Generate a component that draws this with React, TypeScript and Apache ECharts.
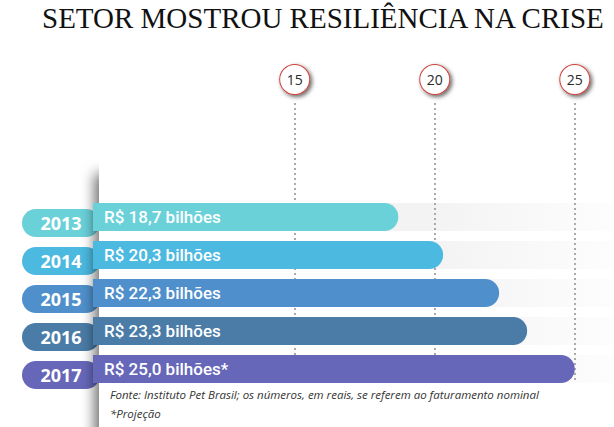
import React, { useEffect, useRef } from 'react';
import * as echarts from 'echarts';

const TITLE = 'SETOR MOSTROU RESILIÊNCIA NA CRISE';
const YEARS = ['2013', '2014', '2015', '2016', '2017'];
const VALUES = [18.7, 20.3, 22.3, 23.3, 25.0];
const PROJECTED = [false, false, false, false, true];
const COLORS = ['#6ad1d9', '#4cb9e0', '#4f90cc', '#4a7ca7', '#6667b9'];
const TICKS = [15, 20, 25];
const AXIS_MIN = 7.8;
const AXIS_MAX = 26.4;
const SOURCE = 'Fonte: Instituto Pet Brasil; os números, em reais, se referem ao faturamento nominal';
const NOTE = '*Projeção';

export default function App() {
  const ref = useRef<HTMLDivElement>(null);
  useEffect(() => {
    const chart = echarts.init(ref.current!, null, { renderer: 'svg' });
    const pillRich: Record<string, any> = {};
    YEARS.forEach((_, i) => {
      pillRich['p' + i] = {
        backgroundColor: COLORS[i],
        width: 78,
        height: 28,
        lineHeight: 28,
        borderRadius: 14,
        align: 'center',
        color: '#fff',
        fontSize: 18,
        fontWeight: 'bold',
        fontFamily: 'Open Sans',
      };
    });
    const option: any = {
      animation: false,
      grid: [
        { left: 93, right: 0, top: 103, bottom: 44 },
        { left: 93, right: 0, top: 198, bottom: 39 },
        { left: 93, right: 0, top: 204, bottom: 33 },
      ],
      xAxis: [
        {
          gridIndex: 0,
          type: 'value',
          position: 'top',
          min: AXIS_MIN,
          max: AXIS_MAX,
          z: 3,
          axisLine: { show: false },
          axisTick: { show: false, customValues: TICKS },
          axisLabel: {
            customValues: TICKS,
            margin: 9,
            formatter: (v: number) => `{c|${v}}`,
            rich: {
              c: {
                width: 29,
                height: 29,
                lineHeight: 29,
                align: 'center',
                backgroundColor: '#fff',
                borderColor: '#d0453e',
                borderWidth: 1,
                borderRadius: 14.5,
                shadowColor: 'rgba(0,0,0,0.6)',
                shadowBlur: 4,
                shadowOffsetX: 2,
                shadowOffsetY: 2,
                color: '#2a2a2a',
                fontSize: 14,
                fontFamily: 'Open Sans',
              },
            },
          },
          splitLine: { show: true, lineStyle: { type: [2, 3], width: 2, color: '#aaaaaa' } },
        },
        { gridIndex: 1, type: 'value', min: AXIS_MIN, max: AXIS_MAX, show: false },
        { gridIndex: 2, type: 'value', min: AXIS_MIN, max: AXIS_MAX, show: false },
      ],
      yAxis: [
        { gridIndex: 0, type: 'value', show: false },
        { gridIndex: 1, type: 'category', data: YEARS, inverse: true, show: false },
        {
          gridIndex: 2,
          type: 'category',
          data: YEARS,
          inverse: true,
          z: 0,
          axisLine: { show: false },
          axisTick: { show: false },
          splitLine: { show: false },
          axisLabel: {
            margin: -7,
            formatter: (v: string, i: number) => `{p${i}|${v}}`,
            rich: pillRich,
          },
        },
      ],
      graphic: [
        {
          type: 'rect',
          z: 1,
          shape: { x: 99, y: 150, width: 530, height: 320 },
          style: {
            fill: '#fff',
            shadowBlur: 14,
            shadowOffsetX: -4,
            shadowOffsetY: 24,
            shadowColor: 'rgba(0,0,0,0.6)',
          },
        },
        {
          type: 'text',
          z: 5,
          left: 42,
          top: 3,
          style: { text: TITLE, fontSize: 29, fontFamily: 'Liberation Serif', fill: '#111' },
        },
        {
          type: 'text',
          z: 5,
          left: 110,
          top: 388,
          style: { text: SOURCE, fontSize: 11.5, fontStyle: 'italic', fontFamily: 'Open Sans', fill: '#333' },
        },
        {
          type: 'text',
          z: 5,
          left: 110,
          top: 407,
          style: { text: NOTE, fontSize: 11.5, fontStyle: 'italic', fontFamily: 'Open Sans', fill: '#333' },
        },
      ],
      series: [
        {
          type: 'bar',
          xAxisIndex: 1,
          yAxisIndex: 1,
          data: VALUES,
          barWidth: 28,
          z: 2,
          silent: true,
          itemStyle: { color: 'rgba(0,0,0,0)' },
          showBackground: true,
          backgroundStyle: {
            color: new echarts.graphic.LinearGradient(0, 0, 1, 0, [
              { offset: 0, color: '#f0f0f0' },
              { offset: 0.65, color: '#f3f3f3' },
              { offset: 1, color: '#fdfdfd' },
            ]),
          },
        },
        {
          type: 'bar',
          xAxisIndex: 1,
          yAxisIndex: 1,
          barWidth: 28,
          barGap: '-100%',
          z: 4,
          data: VALUES.map((v, i) => ({ value: v, itemStyle: { color: COLORS[i] } })),
          itemStyle: { borderRadius: [0, 14, 14, 0] },
          label: {
            show: true,
            position: 'insideLeft',
            distance: 11,
            color: '#fff',
            fontSize: 17,
            fontWeight: 500,
            fontFamily: 'Roboto',
            formatter: (p: any) =>
              `R$ ${VALUES[p.dataIndex].toFixed(1).replace('.', ',')} bilhões${PROJECTED[p.dataIndex] ? '*' : ''}`,
          },
        },
      ],
    };
    chart.setOption(option);
    return () => chart.dispose();
  }, []);
  return <div ref={ref} style={{ position: 'absolute', left: 0, top: 0, width: 614, height: 427 }} />;
}
